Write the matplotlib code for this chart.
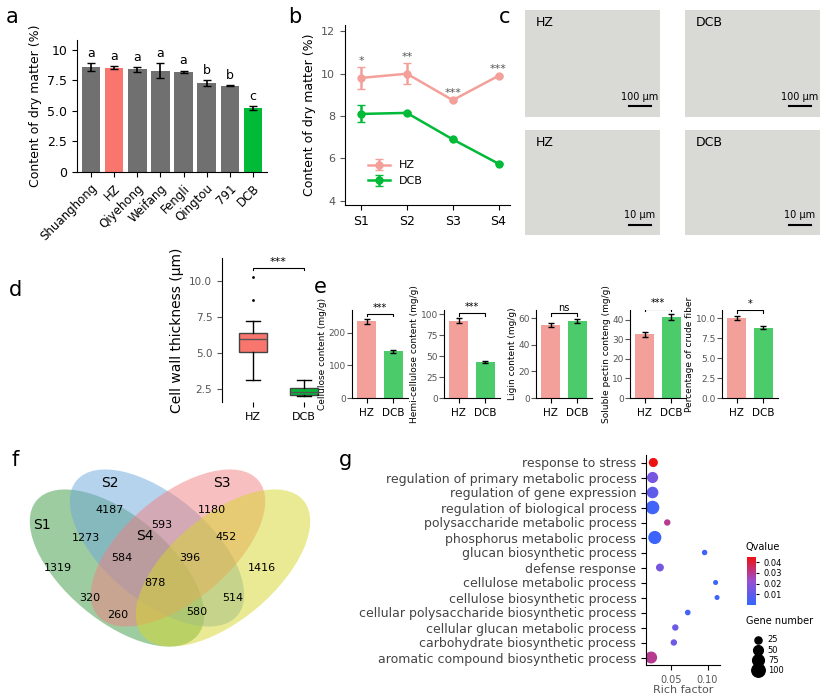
import numpy as np
import matplotlib
matplotlib.use("Agg")
import matplotlib.pyplot as plt
from matplotlib.patches import Ellipse
from matplotlib.lines import Line2D
from matplotlib.colors import LinearSegmentedColormap

W, H = 839, 696

# --- data ---
cultivars = ["Shuanghong", "HZ", "Qiyehong", "Weifang", "Fengli", "Qingtou", "791", "DCB"]
dry_matter = [8.6, 8.55, 8.4, 8.3, 8.2, 7.3, 7.05, 5.25]
dry_err = [0.3, 0.1, 0.2, 0.6, 0.1, 0.25, 0.05, 0.15]
dry_letters = ["a", "a", "a", "a", "a", "b", "b", "c"]

stages = ["S1", "S2", "S3", "S4"]
hz_stage = [9.8, 10.0, 8.75, 9.9]
hz_stage_err = [0.5, 0.5, 0.05, 0.05]
dcb_stage = [8.1, 8.15, 6.9, 5.75]
dcb_stage_err = [0.4, 0.05, 0.03, 0.03]
stage_sig = ["*", "**", "***", "***"]

# cell wall thickness box stats (HZ, DCB)
box_stats = [
    dict(whislo=3.1, q1=5.05, med=6.0, q3=6.4, whishi=7.2, fliers=[8.7, 10.3]),
    dict(whislo=2.0, q1=2.1, med=2.3, q3=2.55, whishi=3.15, fliers=[]),
]

e_labels = ["Cellulose content (mg/g)", "Hemi-cellulose content (mg/g)", "Ligin content (mg/g)",
            "Soluble pectin conteng (mg/g)", "Percentage of crude fiber"]
e_hz = [235, 92, 54.5, 32.5, 10.0]
e_hz_err = [8, 3, 1.5, 1.5, 0.3]
e_dcb = [143, 43, 58, 41.5, 8.8]
e_dcb_err = [5, 1, 1.5, 1.5, 0.2]
e_sig = ["***", "***", "ns", "***", "*"]
e_ticks = [[0, 100, 200], [0, 25, 50, 75, 100], [0, 20, 40, 60], [0, 10, 20, 30, 40], [0, 2.5, 5.0, 7.5, 10.0]]
e_ylim = [270, 105, 66, 45, 11]

venn_counts = [4187, 1180, 593, 1273, 452, 584, 396, 1319, 1416, 878, 320, 514, 260, 580]
venn_xy = [(110, 510), (212, 510), (162, 525), (86, 538), (226, 537), (122, 558), (190, 558),
           (58, 568), (262, 568), (155, 583), (90, 598), (233, 598), (118, 615), (197, 612)]

go_terms = ["response to stress", "regulation of primary metabolic process", "regulation of gene expression",
            "regulation of biological process", "polysaccharide metabolic process", "phosphorus metabolic process",
            "glucan biosynthetic process", "defense response", "cellulose metabolic process",
            "cellulose biosynthetic process", "cellular polysaccharide biosynthetic process",
            "cellular glucan metabolic process", "carbohydrate biosynthetic process",
            "aromatic compound biosynthetic process"]
rich = [0.026, 0.025, 0.025, 0.025, 0.045, 0.028, 0.096, 0.035, 0.111, 0.113, 0.073, 0.056, 0.054, 0.023]
qval = [0.045, 0.015, 0.01, 0.003, 0.03, 0.002, 0.002, 0.015, 0.002, 0.002, 0.004, 0.012, 0.012, 0.03]
gene_num = [30, 50, 55, 80, 10, 75, 5, 20, 3, 3, 6, 10, 10, 60]

HZC, DCBC = "#F8766D", "#00BA38"
HZL, DCBL = "#F4A09A", "#4CCB6A"
GREY = "#555555"

plt.rcParams["font.family"] = ["DejaVu Sans"]
fig = plt.figure(figsize=(W / 100, H / 100), dpi=100)


def ax_px(x0, y0, x1, y1):
    return fig.add_axes([x0 / W, 1 - y1 / H, (x1 - x0) / W, (y1 - y0) / H])


def label(x, y, s):
    fig.text(x / W, 1 - y / H, s, fontsize=15, va="center", ha="center")


def clean(ax):
    ax.spines["top"].set_visible(False)
    ax.spines["right"].set_visible(False)


# --- a ---
ax = ax_px(77, 40, 267, 172)
cols = [HZC if c == "HZ" else DCBC if c == "DCB" else "#707070" for c in cultivars]
x = np.arange(len(cultivars))
ax.bar(x, dry_matter, color=cols, width=0.8, yerr=dry_err, capsize=3, error_kw=dict(lw=1.2))
for i, (v, e, l) in enumerate(zip(dry_matter, dry_err, dry_letters)):
    ax.text(i, v + e + 0.25, l, ha="center", va="bottom", fontsize=9)
ax.set_ylim(0, 10.8)
ax.set_yticks([0, 2.5, 5.0, 7.5, 10])
ax.set_yticklabels(["0", "2.5", "5.0", "7.5", "10"], fontsize=9)
ax.set_xticks(x)
ax.set_xticklabels(cultivars, rotation=45, ha="right", rotation_mode="anchor", fontsize=8.5)
ax.set_xlim(-0.6, 7.6)
ax.set_ylabel("Content of dry matter (%)", fontsize=9)
clean(ax)
label(12, 17, "a")

# --- b ---
ax = ax_px(345, 25, 510, 205)
ax.errorbar(x[:4], hz_stage, yerr=hz_stage_err, color=HZL, marker="o", ms=5, lw=1.8, capsize=3, label="HZ")
ax.errorbar(x[:4], dcb_stage, yerr=dcb_stage_err, color=DCBC, marker="o", ms=5, lw=1.8, capsize=3, label="DCB")
for i, s in enumerate(stage_sig):
    ax.text(i, hz_stage[i] + hz_stage_err[i] + 0.05, s, ha="center", va="bottom", fontsize=8, color=GREY)
ax.set_ylim(3.8, 12.3)
ax.set_yticks([4, 6, 8, 10, 12])
ax.set_xticks(x[:4])
ax.set_xticklabels(stages, fontsize=9)
ax.set_xlim(-0.35, 3.25)
ax.tick_params(axis="y", labelsize=8, colors=GREY)
ax.set_ylabel("Content of dry matter (%)", fontsize=9)
ax.legend(loc="lower left", frameon=False, fontsize=8, bbox_to_anchor=(0.08, 0.05))
clean(ax)
label(295, 17, "b")

# --- c (micrograph placeholders) ---
c_panels = [((525, 10, 660, 117), "HZ", "100 μm"), ((685, 10, 820, 117), "DCB", "100 μm"),
            ((525, 130, 660, 235), "HZ", "10 μm"), ((685, 130, 820, 235), "DCB", "10 μm")]
for (x0, y0, x1, y1), name, bar in c_panels:
    cax = ax_px(x0, y0, x1, y1)
    cax.set_facecolor("#d9d9d6")
    cax.set_xticks([]); cax.set_yticks([])
    for s in cax.spines.values():
        s.set_visible(False)
    cax.text(0.08, 0.85, name, transform=cax.transAxes, fontsize=9)
    cax.text(0.85, 0.16, bar, transform=cax.transAxes, fontsize=7, ha="center")
    cax.plot([0.77, 0.93], [0.1, 0.1], transform=cax.transAxes, color="k", lw=1.5)
label(505, 17, "c")

# --- d ---
ax = ax_px(222, 258, 335, 402)
bp = ax.bxp(box_stats, positions=[1, 2], widths=0.55, patch_artist=True,
            flierprops=dict(marker=".", ms=2, color="k"), medianprops=dict(color="#555555"))
for patch, c in zip(bp["boxes"], [HZC, DCBC]):
    patch.set_facecolor(c); patch.set_edgecolor("#444444")
ax.plot([1, 1, 2, 2], [10.75, 10.9, 10.9, 10.75], color="k", lw=0.8)
ax.text(1.5, 10.95, "***", ha="center", va="bottom", fontsize=8)
ax.set_ylim(1.6, 11.6)
ax.set_yticks([2.5, 5.0, 7.5, 10.0])
ax.tick_params(axis="y", labelsize=7.5, colors=GREY)
ax.set_xticks([1, 2])
ax.set_xticklabels(["HZ", "DCB"], fontsize=8)
ax.set_xlim(0.4, 2.6)
ax.set_ylabel("Cell wall thickness (μm)", fontsize=10)
ax.spines["bottom"].set_visible(False)
clean(ax)
label(15, 290, "d")

# --- e ---
e_x0 = [352, 444, 536, 630, 722]
for k in range(5):
    ax = ax_px(e_x0[k], 310, e_x0[k] + 56, 398)
    ax.bar([0, 1], [e_hz[k], e_dcb[k]], color=[HZL, DCBL], width=0.7,
           yerr=[e_hz_err[k], e_dcb_err[k]], capsize=2, error_kw=dict(lw=1))
    top = max(e_hz[k] + e_hz_err[k], e_dcb[k] + e_dcb_err[k])
    yl = e_ylim[k]
    ax.plot([0, 0, 1, 1], [top + yl * 0.03, top + yl * 0.06, top + yl * 0.06, top + yl * 0.03], color="k", lw=0.8)
    ax.text(0.5, top + yl * 0.07, e_sig[k], ha="center", va="bottom", fontsize=7)
    ax.set_ylim(0, yl)
    ax.set_yticks(e_ticks[k])
    ax.tick_params(axis="y", labelsize=6.5, colors=GREY, pad=1)
    ax.set_xticks([0, 1])
    ax.set_xticklabels(["HZ", "DCB"], fontsize=7.5)
    ax.set_xlim(-0.55, 1.55)
    ax.set_ylabel(e_labels[k], fontsize=6.5, labelpad=1)
    clean(ax)
label(320, 287, "e")

# --- f (Venn) ---
ax = fig.add_axes([0, 0, 1, 1], zorder=-1)
ax.set_xlim(0, W); ax.set_ylim(H, 0); ax.axis("off")
ells = [((117, 568), 210, 105, 40, "#3f9a45"), ((157, 548), 210, 105, 40, "#6fa8dc"),
        ((178, 548), 210, 105, -40, "#f08080"), ((223, 568), 210, 105, -40, "#d6d62a")]
for (cx, cy), w, h, a, c in ells:
    ax.add_patch(Ellipse((cx, cy), w, h, angle=a, facecolor=c, alpha=0.5, edgecolor="none"))
for n, (vx, vy) in zip(venn_counts, venn_xy):
    ax.text(vx, vy, str(n), ha="center", va="center", fontsize=8)
for s, (vx, vy) in zip(["S1", "S2", "S3", "S4"], [(42, 525), (110, 483), (222, 483), (145, 536)]):
    ax.text(vx, vy, s, ha="center", va="center", fontsize=10)
label(15, 460, "f")

# --- g ---
ax = ax_px(646, 455, 720, 665)
yy = np.arange(len(go_terms))
qmap = LinearSegmentedColormap.from_list("q", ["#3366ff", "#9a4fd0", "#ee1111"])
sc = ax.scatter(rich, yy, c=qval, s=np.array(gene_num) * 0.9 + 4, cmap=qmap, vmin=0, vmax=0.045)
ax.set_ylim(len(go_terms) - 0.5, -0.5)
ax.set_yticks(yy)
ax.set_yticklabels(go_terms, fontsize=9, color="#444444")
ax.set_xlim(0.016, 0.117)
ax.set_xticks([0.05, 0.10])
ax.set_xticklabels(["0.05", "0.10"], fontsize=7, color=GREY)
ax.set_xlabel("Rich factor", fontsize=8, color=GREY, labelpad=0)
clean(ax)
cax = ax_px(747, 557, 756, 605)
cb = fig.colorbar(sc, cax=cax, ticks=[0.01, 0.02, 0.03, 0.04])
cb.ax.tick_params(labelsize=6, length=2)
cb.outline.set_visible(False)
fig.text(746 / W, 1 - 550 / H, "Qvalue", fontsize=7)
fig.text(746 / W, 1 - 624 / H, "Gene number", fontsize=7)
handles = [Line2D([], [], ls="", marker="o", color="k", ms=np.sqrt(g * 0.9 + 4)) for g in [25, 50, 75, 100]]
fig.legend(handles, ["25", "50", "75", "100"], loc="upper left", bbox_to_anchor=(742 / W, 1 - 628 / H),
           frameon=False, fontsize=6, labelspacing=0.15, handletextpad=0.2)
label(345, 460, "g")

fig.savefig("out.png", dpi=100)
